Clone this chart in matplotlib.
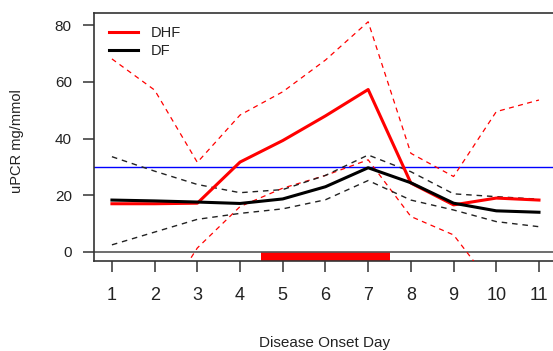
import matplotlib.pyplot as plt
import numpy as np

plt.rcParams['font.family'] = ['Liberation Sans', 'DejaVu Sans']
plt.rcParams['text.color'] = '#222222'
plt.rcParams['xtick.labelcolor'] = '#222222'
plt.rcParams['ytick.labelcolor'] = '#222222'
plt.rcParams['axes.labelcolor'] = '#222222'

# Disease onset days
days = [1, 2, 3, 4, 5, 6, 7, 8, 9, 10, 11]

# DHF: mean and 95% band
dhf_mean = [17.0, 17.0, 17.2, 31.7, 39.3, 48.0, 57.3, 24.3, 16.6, 19.0, 18.3]
dhf_upper = [68.1, 57.1, 31.6, 48.3, 56.5, 67.7, 81.2, 34.8, 26.6, 49.5, 53.6]
dhf_lower = [-34.0, -22.0, 1.4, 16.0, 22.5, 27.0, 32.5, 12.5, 6.0, -13.6, -16.0]

# DF: mean and 95% band
df_mean = [18.3, 18.0, 17.6, 17.1, 18.7, 23.0, 29.7, 24.4, 17.2, 14.5, 14.0]
df_upper = [33.6, 28.5, 23.8, 20.9, 22.0, 27.0, 34.2, 28.3, 20.5, 19.5, 18.6]
df_lower = [2.5, 7.0, 11.5, 13.6, 15.2, 18.4, 25.2, 18.3, 14.8, 10.7, 8.9]

threshold = 30
onset_window = [4.5, 7.5]

fig = plt.figure(figsize=(5.53, 3.51), dpi=100)
ax = fig.add_axes([94 / 553, 1 - 261 / 351, 470.6 / 553, 248 / 351])

xlo, xhi = 0.58, 11.6
ylo, yhi = -3.2, 84.3
ax.set_xlim(xlo, xhi)
ax.set_ylim(ylo, yhi)

# onset bar and reference lines
ax.fill_between(onset_window, [ylo, ylo], [0, 0], color='#ff0000', lw=0, zorder=1)
ax.axhline(0, color='#555555', lw=1.2, zorder=1)
ax.axhline(threshold, color='#0000ff', lw=1.0, zorder=2)

dash = (0, (4, 3.5))
ax.plot(days, dhf_upper, color='#ff0000', lw=0.9, ls=dash, zorder=3)
ax.plot(days, dhf_lower, color='#ff0000', lw=0.9, ls=dash, zorder=3)
ax.plot(days, df_upper, color='#222222', lw=1.0, ls=dash, zorder=3)
ax.plot(days, df_lower, color='#222222', lw=1.0, ls=dash, zorder=3)
ax.plot(days, dhf_mean, color='#ff0000', lw=2.2, label='DHF', zorder=4)
ax.plot(days, df_mean, color='#000000', lw=2.2, label='DF', zorder=4)

ax.set_xticks(days)
ax.set_yticks([0, 20, 40, 60, 80])
ax.tick_params(axis='x', length=8, width=1.1, color='#333333', labelsize=13, pad=11)
ax.tick_params(axis='y', length=8, width=1.1, color='#333333', labelsize=11, pad=8)
for s in ax.spines.values():
    s.set_color('#333333')
    s.set_linewidth(1.2)

ax.set_xlabel('Disease Onset Day', fontsize=11)
ax.xaxis.label.set_va('center')
ax.xaxis.set_label_coords(0.489, -0.331)
ax.set_ylabel('uPCR mg/mmol', fontsize=10.5)
ax.yaxis.label.set_va('center')
ax.yaxis.set_label_coords(-0.163, 0.484)

ax.legend(loc='upper left', frameon=False, fontsize=10.5, handlelength=2.0,
          handletextpad=0.9, labelspacing=0.3, borderaxespad=0.3,
          bbox_to_anchor=(0.01, 0.99))

fig.savefig('out.png', dpi=100)
